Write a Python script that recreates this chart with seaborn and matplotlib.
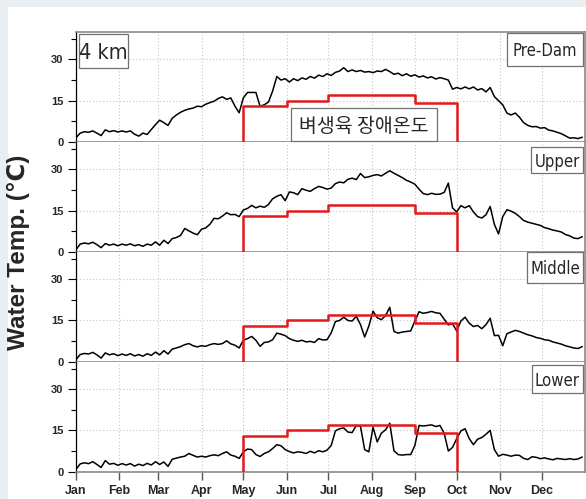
import numpy as np
import pandas as pd
import matplotlib
matplotlib.use("Agg")
import matplotlib.pyplot as plt
from matplotlib.patches import Rectangle
from matplotlib import font_manager
import seaborn as sns

# ---- data -------------------------------------------------------------
# day of year for each reading (every third day)
day = np.arange(0, 364, 3)

pre_dam = [1.5, 3.2, 3.7, 3.5, 4.0, 3.2, 2.3, 4.4, 3.7, 4.1,
           3.6, 4.0, 3.6, 4.0, 2.8, 2.1, 3.2, 2.7, 4.5, 6.3,
           7.9, 7.0, 6.0, 8.6, 9.8, 10.8, 11.5, 12.0, 12.3, 13.0,
           12.8, 13.7, 14.3, 14.8, 15.8, 16.4, 15.5, 16.0, 13.0, 10.6,
           16.0, 18.0, 18.0, 18.0, 13.0, 13.5, 14.5, 18.5, 23.8, 22.5,
           23.0, 21.8, 23.0, 22.3, 23.3, 22.8, 23.8, 23.2, 24.3, 23.8,
           24.8, 24.2, 25.3, 25.8, 27.0, 25.6, 26.2, 25.6, 26.0, 25.4,
           25.6, 25.2, 25.8, 25.6, 26.4, 25.6, 24.6, 25.0, 24.1, 24.8,
           23.9, 24.4, 23.6, 24.0, 23.3, 23.7, 22.9, 23.4, 23.0, 22.5,
           19.2, 19.8, 19.3, 20.0, 19.3, 20.0, 18.9, 19.4, 18.2, 19.8,
           16.5, 15.0, 13.5, 10.5, 9.8, 10.5, 9.0, 7.0, 6.0, 5.5,
           5.6, 5.0, 5.2, 4.3, 4.0, 3.5, 3.0, 2.2, 1.4, 1.5,
           1.2, 1.7]

upper = [0.8, 2.8, 3.2, 2.9, 3.5, 2.6, 1.5, 3.0, 2.4, 2.8,
         2.2, 2.8, 2.4, 2.9, 2.2, 2.6, 2.0, 2.8, 2.4, 3.6,
         2.4, 4.2, 3.0, 4.8, 5.2, 6.0, 8.5, 7.6, 6.8, 6.2,
         8.2, 8.7, 10.0, 12.2, 12.0, 13.0, 14.2, 13.5, 13.6, 12.8,
         15.2, 15.8, 16.9, 16.0, 16.6, 16.2, 17.2, 19.3, 20.2, 20.8,
         18.6, 21.8, 21.5, 20.8, 23.0, 22.4, 22.0, 23.0, 23.8, 23.4,
         22.8, 23.2, 24.8, 25.4, 25.1, 26.4, 26.8, 26.3, 28.5, 27.0,
         27.3, 27.8, 28.1, 27.6, 28.6, 29.5, 28.6, 27.8, 27.0, 26.0,
         25.4, 24.6, 22.8, 21.2, 20.8, 21.3, 20.9, 21.0, 21.6, 25.0,
         16.0, 14.5, 16.8, 16.0, 16.8, 14.5, 12.8, 12.3, 13.5, 16.5,
         10.0, 6.5, 12.8, 15.3, 14.8, 14.0, 12.8, 11.4, 10.8, 10.4,
         10.0, 9.6, 8.8, 8.4, 7.9, 7.6, 7.2, 6.3, 5.8, 5.0,
         4.8, 5.5]

middle = [0.8, 2.6, 3.0, 2.8, 3.4, 2.5, 1.3, 3.2, 2.5, 2.9,
          2.2, 2.8, 2.3, 2.9, 2.1, 2.6, 2.0, 2.9, 2.3, 3.5,
          2.5, 4.0, 2.8, 4.6, 5.0, 5.5, 6.2, 6.6, 5.8, 5.4,
          5.8, 5.6, 6.2, 6.6, 6.3, 6.6, 7.6, 6.5, 6.0, 5.0,
          7.8, 8.4, 9.2, 7.8, 5.6, 7.0, 7.2, 8.0, 10.4, 10.0,
          9.5, 8.4, 7.8, 7.4, 7.8, 7.2, 7.4, 7.0, 8.4, 7.9,
          8.0, 10.5, 14.6, 15.0, 16.2, 15.0, 14.8, 16.5, 13.5, 9.0,
          13.0, 18.4, 16.0, 15.3, 16.8, 19.8, 11.0, 10.4, 10.8, 11.0,
          11.2, 14.8, 18.2, 17.6, 17.9, 18.3, 17.8, 17.6, 15.5, 13.4,
          13.8, 11.2, 14.8, 16.2, 14.0, 12.8, 13.2, 12.0, 13.5, 15.8,
          9.5, 9.6, 5.8, 10.2, 10.8, 11.4, 11.0, 10.4, 9.8, 9.4,
          8.8, 8.5, 8.0, 7.8, 7.2, 6.8, 6.4, 5.8, 5.4, 5.0,
          4.8, 5.5]

lower = [0.8, 2.8, 3.2, 2.9, 3.6, 2.6, 1.5, 4.0, 2.7, 3.0,
         2.3, 2.9, 2.4, 2.9, 2.0, 2.7, 2.2, 3.0, 2.4, 3.6,
         2.6, 3.5, 1.9, 4.5, 4.9, 5.3, 5.6, 6.6, 5.9, 5.3,
         5.6, 5.3, 5.8, 6.1, 5.8, 6.6, 7.2, 6.0, 5.6, 4.8,
         7.2, 8.2, 8.0, 6.2, 5.5, 6.6, 7.2, 8.4, 9.8, 9.4,
         8.0, 7.3, 6.8, 7.2, 7.0, 6.6, 7.4, 6.8, 7.6, 7.2,
         7.8, 9.5, 14.8, 15.6, 15.9, 14.4, 14.2, 16.8, 16.5, 8.0,
         7.2, 16.2, 10.8, 14.0, 15.2, 17.6, 7.6, 6.2, 6.0, 6.2,
         6.2, 9.5, 16.8, 16.6, 16.8, 17.0, 16.4, 16.8, 14.0, 7.5,
         8.8, 12.0, 14.8, 15.6, 12.0, 9.8, 11.8, 12.4, 13.6, 15.0,
         8.0, 5.6, 6.3, 6.0, 5.6, 6.0, 5.9, 4.8, 4.4, 5.4,
         5.2, 4.7, 5.0, 4.6, 4.3, 4.8, 4.6, 4.4, 4.7, 4.4,
         4.6, 5.3]

sites = ["Pre-Dam", "Upper", "Middle", "Lower"]
site_values = [pre_dam, upper, middle, lower]

# rice-growth damage temperature (May - Sep), drawn as a step outline
thresh_day = [120, 120, 151, 181, 243, 273, 273]
thresh_temp = [0, 13, 15, 17, 14, 14, 0]

month_days = [0, 31, 59, 90, 120, 151, 181, 212, 243, 273, 304, 334]
month_labels = ["Jan", "Feb", "Mar", "Apr", "May", "Jun",
                "Jul", "Aug", "Sep", "Oct", "Nov", "Dec"]

df = pd.concat([pd.DataFrame({"day": day, "temp": v, "site": s})
                for s, v in zip(sites, site_values)], ignore_index=True)
thresh = pd.DataFrame({"day": thresh_day, "temp": thresh_temp})

# ---- style --------------------------------------------------------------
sns.set_style("white")
plt.rcParams["font.family"] = ["Liberation Sans", "DejaVu Sans"]
fonts = font_manager.fontManager.ttflist
names = {f.name for f in fonts}
has_narrow = "Liberation Sans Narrow" in names
has_cond = any(f.name == "DejaVu Sans" and "ondensed" in f.fname for f in fonts)

NARROW = ["Liberation Sans Narrow", "Liberation Sans", "DejaVu Sans"] \
    if has_narrow else ["Liberation Sans", "DejaVu Sans"]
KOREAN = ["Noto Sans CJK KR", "DejaVu Sans"]
if has_cond:
    BOX_FONT = dict(family=["DejaVu Sans"], stretch="condensed")
    BOX_SCALE = 1.0
else:
    BOX_FONT = dict(family=NARROW)
    BOX_SCALE = 1.0 if has_narrow else 0.88

W, H = 586, 499
fig = plt.figure(figsize=(W / 100, H / 100), dpi=100)
fig.patch.set_facecolor("#e8eef2")
fig.patches.append(Rectangle((8 / W, 0), 1 - 8 / W, 1 - 7 / H,
                             transform=fig.transFigure, facecolor="white",
                             edgecolor="none", zorder=-10))

left, right = 76, 585
top0, ph = 32, 109.9
axes = []
for i, site in enumerate(sites):
    top = top0 + i * ph
    ax = fig.add_axes([left / W, 1 - (top + ph) / H, (right - left) / W, ph / H])
    axes.append(ax)
    sns.lineplot(data=df[df["site"] == site], x="day", y="temp", ax=ax,
                 color="black", lw=1.1, estimator=None, sort=False, zorder=3)
    sns.lineplot(data=thresh, x="day", y="temp", ax=ax, color="#e3191c",
                 lw=1.8, estimator=None, sort=False, drawstyle="steps-post",
                 zorder=4)
    ax.set_xlim(0, 365)
    ax.set_ylim(0, 40)
    ax.set_xlabel("")
    ax.set_ylabel("")
    ax.set_xticks(month_days)
    ax.set_yticks([0, 15, 30])
    ax.set_yticks([7.5, 22.5, 37.5], minor=True)
    ax.grid(True, which="major", ls=(0, (1, 2)), color="#c4c4c4", lw=0.8)
    ax.set_axisbelow(True)
    ax.tick_params(axis="y", which="major", direction="out", length=6,
                   width=0.8, color="black", labelsize=8, pad=3, left=True)
    ax.tick_params(axis="y", which="minor", direction="out", length=3.5,
                   width=0.8, color="black", left=True)
    for lbl in ax.get_yticklabels():
        lbl.set_fontweight("bold")
    ax.spines["left"].set_color("black")
    ax.spines["left"].set_linewidth(0.9)
    for s in ("bottom", "top", "right"):
        ax.spines[s].set_color("#8a8a8a")
        ax.spines[s].set_linewidth(1.2)
    if i > 0:
        ax.spines["top"].set_visible(False)
    if i < 3:
        ax.tick_params(axis="x", length=0, labelbottom=False)
    else:
        ax.set_xticklabels(month_labels)
        ax.tick_params(axis="x", direction="out", length=6, width=1,
                       color="#555555", labelsize=9 if not has_narrow else 9.5,
                       pad=4, bottom=True)
        for lbl in ax.get_xticklabels():
            lbl.set_fontweight("bold")
            lbl.set_family(NARROW)

fig.text(18 / W, 1 - 252 / H, "Water Temp. (℃)", rotation=90, ha="center",
         va="center", fontsize=17.5, fontweight="bold",
         family=["Liberation Sans", "DejaVu Sans"])


def label_box(x0, y0, x1, y1, text, size, font):
    fig.patches.append(Rectangle((x0 / W, 1 - y1 / H), (x1 - x0) / W, (y1 - y0) / H,
                                 transform=fig.transFigure, facecolor="white",
                                 edgecolor="#707070", lw=0.9, zorder=5))
    fig.text((x0 + x1) / 2 / W, 1 - (y0 + y1) / 2 / H, text, ha="center",
             va="center_baseline", fontsize=size, zorder=6, **font)


label_box(79, 34, 128, 68, "4 km", 15.5 * BOX_SCALE, BOX_FONT)
label_box(507, 33, 583, 66, "Pre-Dam", 12 * BOX_SCALE, BOX_FONT)
label_box(531, 147, 583, 173, "Upper", 12 * BOX_SCALE, BOX_FONT)
label_box(527, 252, 583, 283, "Middle", 12 * BOX_SCALE, BOX_FONT)
label_box(532, 365, 583, 393, "Lower", 12 * BOX_SCALE, BOX_FONT)
label_box(291, 108, 437, 141, "벼생육 장애온도", 14, dict(family=KOREAN))

fig.savefig("out.png", dpi=100, facecolor=fig.get_facecolor())
